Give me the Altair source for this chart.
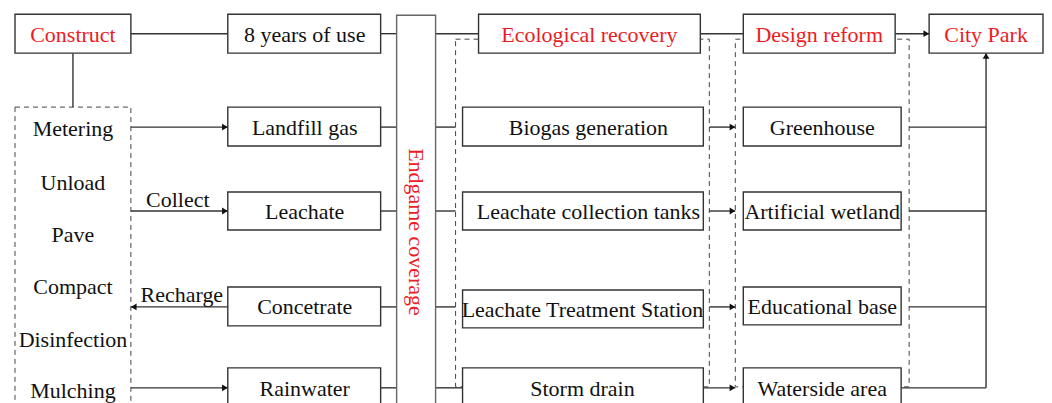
import altair as alt
import pandas as pd

# ---- solid boxes (label, kind, extent in diagram coordinates) ----
box_labels = ["Construct", "8 years of use", "Ecological recovery", "Design reform", "City Park",
              "Landfill gas", "Leachate", "Concetrate", "Rainwater",
              "Biogas generation", "Leachate collection tanks", "Leachate Treatment Station", "Storm drain",
              "Greenhouse", "Artificial wetland", "Educational base", "Waterside area"]
box_kind = ["stage", "item", "stage", "stage", "stage",
            "item", "item", "item", "item",
            "item", "item", "item", "item",
            "item", "item", "item", "item"]
box_x0 = [15, 228, 479, 744, 930, 228, 228, 228, 228, 463, 463, 463, 463, 744, 744, 744, 744]
box_x1 = [131, 381, 701, 896, 1044, 381, 381, 381, 381, 704, 704, 704, 704, 902, 902, 902, 902]
box_y0 = [14, 14, 14, 14, 14, 107, 192, 287, 368, 107, 192, 290, 368, 107, 192, 287, 368]
box_y1 = [53, 53, 53, 53, 53, 146, 230, 326, 408, 146, 230, 328, 408, 146, 230, 325, 408]
# text centre of each box label
box_text_x = [73, 305, 590, 820, 987, 305, 305, 305, 305, 589, 589, 583, 583, 823, 823, 823, 823]

# ---- the tall "Endgame coverage" box ----
cover_label = ["Endgame coverage"]
cover_x0 = [397]
cover_x1 = [436]
cover_y0 = [15]
cover_y1 = [430]
cover_text_y = [233]

# ---- dashed group boxes ----
group_x0 = [15, 456, 736]
group_x1 = [131, 710, 910]
group_y0 = [107, 39, 39]
group_y1 = [430, 387, 387]

# ---- construction steps listed in the left dashed box ----
step_labels = ["Metering", "Unload", "Pave", "Compact", "Disinfection", "Mulching"]
step_x = [73, 73, 73, 73, 73, 73]
step_y = [128, 182, 234, 286, 339, 390]

# ---- edge labels ----
edge_labels = ["Collect", "Recharge"]
edge_x = [178, 182]
edge_y = [199, 294]

# ---- connector segments ----
seg_x1 = [131, 381, 436, 701, 896, 73,
          131, 381, 436, 710, 910,
          131, 381, 436, 710, 910,
          131, 381, 436, 710, 910,
          131, 381, 436, 704, 902,
          987]
seg_y1 = [33.5, 33.5, 33.5, 33.5, 33.5, 53,
          127, 127, 127, 127, 127,
          211, 211, 211, 211, 211,
          307, 307, 307, 307, 307,
          388, 388, 388, 388, 388,
          388]
seg_x2 = [228, 397, 479, 744, 930, 73,
          228, 397, 456, 736, 987,
          228, 397, 456, 736, 987,
          228, 397, 456, 736, 987,
          228, 397, 463, 736, 987,
          987]
seg_y2 = [33.5, 33.5, 33.5, 33.5, 33.5, 107,
          127, 127, 127, 127, 127,
          211, 211, 211, 211, 211,
          307, 307, 307, 307, 307,
          388, 388, 388, 388, 388,
          53]

# ---- arrow heads (tip position and direction) ----
arrow_x = [228, 228, 131, 228, 736, 736, 736, 736, 930, 987]
arrow_y = [127, 211, 307, 388, 127, 211, 307, 388, 33.5, 53]
arrow_dir = [0, 0, 180, 0, 0, 0, 0, 0, 0, 270]

boxes = pd.DataFrame({
    "label": box_labels, "kind": box_kind,
    "x0": box_x0, "x1": box_x1, "y0": box_y0, "y1": box_y1, "cx": box_text_x,
})
boxes["cy"] = (boxes["y0"] + boxes["y1"]) / 2

cover = pd.DataFrame({"label": cover_label, "x0": cover_x0, "x1": cover_x1,
                      "y0": cover_y0, "y1": cover_y1, "ty": cover_text_y})
cover["cx"] = (cover["x0"] + cover["x1"]) / 2

groups = pd.DataFrame({"x0": group_x0, "x1": group_x1, "y0": group_y0, "y1": group_y1})
steps = pd.DataFrame({"label": step_labels, "x": step_x, "y": step_y})
edges = pd.DataFrame({"label": edge_labels, "x": edge_x, "y": edge_y})
segs = pd.DataFrame({"x1": seg_x1, "y1": seg_y1, "x2": seg_x2, "y2": seg_y2})
arrows = pd.DataFrame({"x": arrow_x, "y": arrow_y, "ang": arrow_dir})

XS = alt.Scale(domain=[8, 1044], nice=False, zero=False)
YS = alt.Scale(domain=[8, 395], nice=False, zero=False, reverse=True)

FONT = "Liberation Serif"
FS = 22
LINE = "#333333"
RED = "#ec1c24"
INK = "#111111"

def X(f):
    return alt.X(f, scale=XS, axis=None)

def Y(f):
    return alt.Y(f, scale=YS, axis=None)

group_layer = alt.Chart(groups).mark_rect(
    fillOpacity=0, stroke="#444444", strokeWidth=1, strokeDash=[5, 4]
).encode(x=X("x0:Q"), x2="x1:Q", y=Y("y0:Q"), y2="y1:Q")

seg_layer = alt.Chart(segs).mark_rule(color=LINE, strokeWidth=1.4).encode(
    x=X("x1:Q"), x2="x2:Q", y=Y("y1:Q"), y2="y2:Q")

box_layer = alt.Chart(boxes).mark_rect(
    fill="white", stroke=LINE, strokeWidth=1.4
).encode(x=X("x0:Q"), x2="x1:Q", y=Y("y0:Q"), y2="y1:Q")

cover_layer = alt.Chart(cover).mark_rect(
    fill="white", stroke="#666666", strokeWidth=1.4
).encode(x=X("x0:Q"), x2="x1:Q", y=Y("y0:Q"), y2="y1:Q")

arrow_layer = alt.Chart(arrows).mark_point(
    shape="M-1,-0.6L0,0L-1,0.6Z", filled=True, size=130, color=INK, opacity=1
).encode(x=X("x:Q"), y=Y("y:Q"), angle=alt.Angle("ang:Q", scale=None))

box_text = alt.Chart(boxes).mark_text(
    font=FONT, fontSize=FS, baseline="middle", align="center", dy=1
).encode(
    x=X("cx:Q"), y=Y("cy:Q"), text="label:N",
    color=alt.Color("kind:N", scale=alt.Scale(domain=["stage", "item"], range=[RED, INK]), legend=None),
)

cover_text = alt.Chart(cover).mark_text(
    font=FONT, fontSize=FS, baseline="middle", align="center", angle=90, color=RED, dx=-1
).encode(x=X("cx:Q"), y=Y("ty:Q"), text="label:N")

step_text = alt.Chart(steps).mark_text(
    font=FONT, fontSize=FS, baseline="middle", align="center", color=INK, dy=1
).encode(x=X("x:Q"), y=Y("y:Q"), text="label:N")

edge_text = alt.Chart(edges).mark_text(
    font=FONT, fontSize=FS, baseline="middle", align="center", color=INK, dy=1
).encode(x=X("x:Q"), y=Y("y:Q"), text="label:N")

chart = alt.layer(
    group_layer, seg_layer, cover_layer, box_layer, arrow_layer,
    box_text, cover_text, step_text, edge_text,
).properties(width=1036, height=387, padding=0).configure_view(stroke=None)

chart.save("out.html", embed_options={"renderer": "svg", "actions": False})
